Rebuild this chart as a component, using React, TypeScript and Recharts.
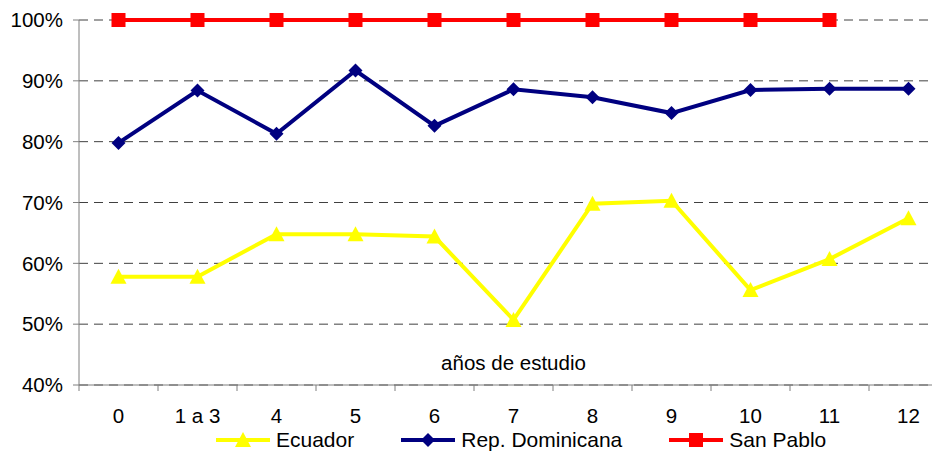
import React from "react"
import { LineChart, Line, XAxis, YAxis, CartesianGrid, Legend } from "recharts"

const categories = ["0", "1 a 3", "4", "5", "6", "7", "8", "9", "10", "11", "12"]
const ecuador = [0.578, 0.578, 0.648, 0.648, 0.644, 0.507, 0.698, 0.703, 0.556, 0.607, 0.674]
const repDominicana = [0.798, 0.884, 0.813, 0.917, 0.826, 0.886, 0.873, 0.847, 0.885, 0.887, 0.887]
const sanPablo = [1, 1, 1, 1, 1, 1, 1, 1, 1, 1, null]
const yTicks = [0.4, 0.5, 0.6, 0.7, 0.8, 0.9, 1.0]

const data = categories.map((c, i) => ({
  cat: c,
  ecuador: ecuador[i],
  rep: repDominicana[i],
  sp: sanPablo[i],
}))

const W = 950
const H = 450
const M = { top: 12, right: 10, bottom: 0, left: 0 }
const Y_W = 71
const plotW = W - M.left - M.right - Y_W
const band = plotW / categories.length
const FONT = "Arial, 'Liberation Sans', sans-serif"
const FS = 20.5

const Triangle = ({ cx, cy, color }: any) => (
  <polygon points={`${cx},${cy - 8} ${cx - 8},${cy + 7} ${cx + 8},${cy + 7}`} fill={color} />
)
const Diamond = ({ cx, cy, color }: any) => (
  <polygon points={`${cx},${cy - 7} ${cx + 7},${cy} ${cx},${cy + 7} ${cx - 7},${cy}`} fill={color} />
)
const Square = ({ cx, cy, color }: any) => <rect x={cx - 7} y={cy - 7} width={14} height={14} fill={color} />

const series = [
  { key: "ecuador", name: "Ecuador", color: "#FFFF00", Marker: Triangle },
  { key: "rep", name: "Rep. Dominicana", color: "#000080", Marker: Diamond },
  { key: "sp", name: "San Pablo", color: "#FF0000", Marker: Square },
]

const XTick = ({ x, y, payload, index }: any) => {
  const last = index === categories.length - 1
  return (
    <g>
      <line x1={x - band / 2} x2={x - band / 2} y1={y} y2={y + 6} stroke="#7f7f7f" />
      {last && <line x1={x + band / 2} x2={x + band / 2} y1={y} y2={y + 6} stroke="#7f7f7f" />}
      <text x={x} y={y + 38} textAnchor="middle" fontSize={FS} fontFamily={FONT} fill="#000">
        {payload.value}
      </text>
    </g>
  )
}

const LegendContent = () => (
  <div style={{ display: "flex", alignItems: "center", paddingLeft: 208, gap: 47, fontFamily: FONT, fontSize: 21 }}>
    {series.map((s) => (
      <div key={s.key} style={{ display: "flex", alignItems: "center" }}>
        <svg width={54} height={18}>
          <line x1={0} x2={54} y1={9} y2={9} stroke={s.color} strokeWidth={4} />
          <s.Marker cx={27} cy={9} color={s.color} />
        </svg>
        <span style={{ marginLeft: 6, color: "#000" }}>{s.name}</span>
      </div>
    ))}
  </div>
)

export default function App() {
  return (
    <div style={{ width: 932, height: 450, overflow: "hidden" }}>
      <LineChart width={W} height={H} data={data} margin={M}>
        <CartesianGrid vertical={false} stroke="#404040" strokeDasharray="9 6" />
        <XAxis
          dataKey="cat"
          padding={{ left: band / 2, right: band / 2 }}
          height={43}
          stroke="#7f7f7f"
          tickLine={false}
          tickSize={0}
          tickMargin={0}
          interval={0}
          tick={<XTick />}
          label={{ value: "años de estudio", position: "top", offset: 15, fontSize: FS, fontFamily: FONT, fill: "#000" }}
        />
        <YAxis
          width={Y_W}
          domain={[0.4, 1]}
          ticks={yTicks}
          tickFormatter={(v: number) => `${Math.round(v * 100)}%`}
          stroke="#7f7f7f"
          tickSize={6}
          tickMargin={10}
          tick={{ fontSize: FS, fontFamily: FONT, fill: "#000" }}
        />
        <Legend verticalAlign="bottom" height={30} content={<LegendContent />} />
        {series.map((s) => (
          <Line
            key={s.key}
            dataKey={s.key}
            name={s.name}
            stroke={s.color}
            strokeWidth={4}
            isAnimationActive={false}
            dot={(p: any) =>
              p.cx == null || p.cy == null || p.value == null ? (
                <g key={`${s.key}-${p.index}`} />
              ) : (
                <s.Marker key={`${s.key}-${p.index}`} cx={p.cx} cy={p.cy} color={s.color} />
              )
            }
            activeDot={false}
          />
        ))}
      </LineChart>
    </div>
  )
}
